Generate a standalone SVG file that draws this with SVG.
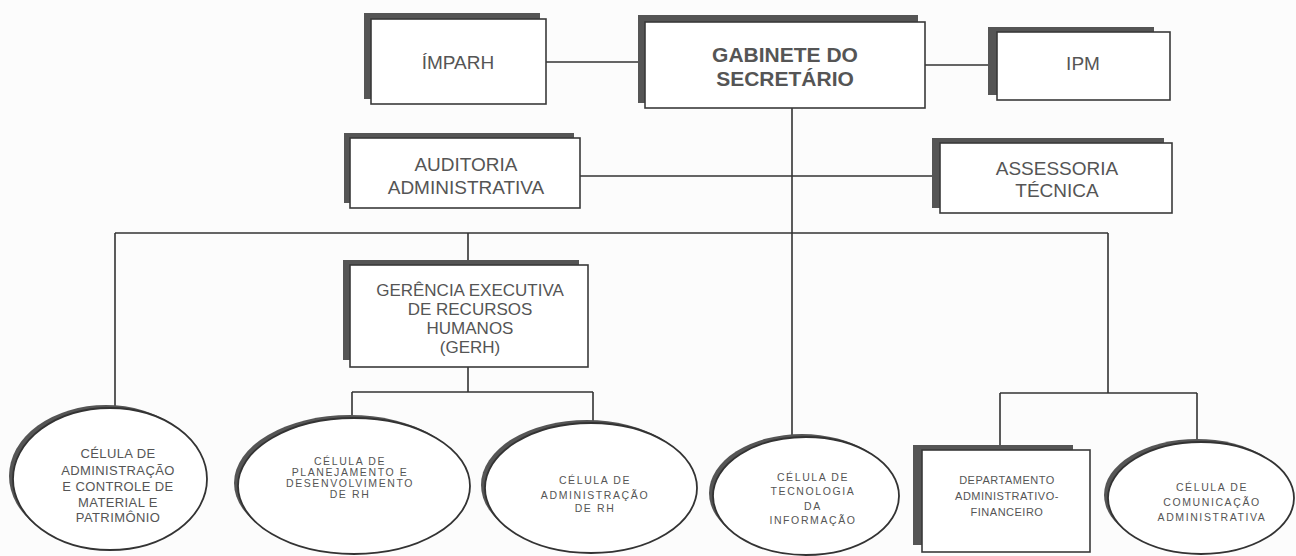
<svg xmlns="http://www.w3.org/2000/svg" width="1296" height="556" viewBox="0 0 1296 556">
<style>
.bg{fill:#fcfcfc}
.sh{fill:#555}
.box{fill:#fff;stroke:#3a3a3a;stroke-width:1.6}
.ell{fill:#fff;stroke:#333;stroke-width:1.8}
.ln{stroke:#333;stroke-width:1.6;fill:none}
text{font-family:"Liberation Sans",Arial,sans-serif;fill:#555;text-anchor:middle}
.t19{font-size:19px}
.t17{font-size:17px}
.tb{font-size:21px;font-weight:bold}
.ts{font-size:10.5px;letter-spacing:1.6px}
.tm{font-size:13px;letter-spacing:0.4px}
.td{font-size:11px;letter-spacing:0.5px}
</style>
<rect class="bg" x="0" y="0" width="1296" height="556"/>
<g id="connectors">
<path class="ln" d="M546 62H638"/>
<path class="ln" d="M925 65H988"/>
<path class="ln" d="M792 108V435"/>
<path class="ln" d="M580 176H933"/>
<path class="ln" d="M115 233H1108"/>
<path class="ln" d="M115 233V408"/>
<path class="ln" d="M468 233V260"/>
<path class="ln" d="M468 367V392M352 392H593M352 392V418M593 392V423"/>
<path class="ln" d="M1108 233V393M1000 393H1197M1000 393V445M1197 393V442"/>
</g>
<g id="imparh">
<rect class="sh" x="364" y="13" width="176" height="86"/>
<rect class="box" x="371" y="19" width="175" height="85"/>
<text class="t19" x="458" y="69">ÍMPARH</text>
</g>
<g id="gabinete">
<rect class="sh" x="638" y="15" width="280" height="88"/>
<rect class="box" x="645" y="22" width="280" height="86"/>
<text class="tb" x="785" y="62">GABINETE DO</text>
<text class="tb" x="785" y="86">SECRETÁRIO</text>
</g>
<g id="ipm">
<rect class="sh" x="988" y="27" width="166" height="68"/>
<rect class="box" x="997" y="32" width="173" height="68"/>
<text class="t19" x="1083" y="70">IPM</text>
</g>
<g id="auditoria">
<rect class="sh" x="344" y="133" width="230" height="70"/>
<rect class="box" x="350" y="138" width="230" height="70"/>
<text class="t19" x="466" y="171">AUDITORIA</text>
<text class="t19" x="466" y="194">ADMINISTRATIVA</text>
</g>
<g id="assessoria">
<rect class="sh" x="932" y="138" width="232" height="70"/>
<rect class="box" x="940" y="143" width="232" height="70"/>
<text class="t19" x="1057" y="175">ASSESSORIA</text>
<text class="t19" x="1057" y="197">TÉCNICA</text>
</g>
<g id="gerh">
<rect class="sh" x="343" y="260" width="236" height="100"/>
<rect class="box" x="350" y="265" width="238" height="102"/>
<text class="t17" x="470" y="296">GERÊNCIA EXECUTIVA</text>
<text class="t17" x="470" y="315">DE RECURSOS</text>
<text class="t17" x="470" y="334">HUMANOS</text>
<text class="t17" x="470" y="353">(GERH)</text>
</g>
<g id="cel-material">
<ellipse class="sh" cx="106" cy="476" rx="97" ry="71"/>
<ellipse class="ell" cx="110" cy="479" rx="97" ry="71"/>
<text class="tm" x="118" y="458">CÉLULA DE</text>
<text class="tm" x="118" y="475">ADMINISTRAÇÃO</text>
<text class="tm" x="118" y="491">E CONTROLE DE</text>
<text class="tm" x="118" y="507">MATERIAL E</text>
<text class="tm" x="118" y="522">PATRIMÔNIO</text>
</g>
<g id="cel-planejamento">
<ellipse class="sh" cx="350" cy="483" rx="116" ry="68"/>
<ellipse class="ell" cx="354" cy="486" rx="116" ry="68"/>
<text class="ts" x="350" y="465">CÉLULA DE</text>
<text class="ts" x="350" y="476">PLANEJAMENTO E</text>
<text class="ts" x="350" y="487">DESENVOLVIMENTO</text>
<text class="ts" x="350" y="498">DE RH</text>
</g>
<g id="cel-admrh">
<ellipse class="sh" cx="587" cy="485" rx="106" ry="65"/>
<ellipse class="ell" cx="591" cy="488" rx="106" ry="65"/>
<text class="ts" x="595" y="484">CÉLULA DE</text>
<text class="ts" x="595" y="499">ADMINISTRAÇÃO</text>
<text class="ts" x="595" y="512">DE RH</text>
</g>
<g id="cel-ti">
<ellipse class="sh" cx="802" cy="493" rx="93" ry="59"/>
<ellipse class="ell" cx="806" cy="496" rx="93" ry="59"/>
<text class="ts" x="813" y="481">CÉLULA DE</text>
<text class="ts" x="813" y="495">TECNOLOGIA</text>
<text class="ts" x="813" y="510">DA</text>
<text class="ts" x="813" y="524">INFORMAÇÃO</text>
</g>
<g id="dept-financeiro">
<rect class="sh" x="913" y="445" width="160" height="100"/>
<rect class="box" x="922" y="450" width="168" height="102"/>
<text class="td" x="1007" y="484">DEPARTAMENTO</text>
<text class="td" x="1007" y="500">ADMINISTRATIVO-</text>
<text class="td" x="1007" y="516">FINANCEIRO</text>
</g>
<g id="cel-comunicacao">
<ellipse class="sh" cx="1197" cy="495" rx="93" ry="56"/>
<ellipse class="ell" cx="1201" cy="498" rx="93" ry="56"/>
<text class="ts" x="1212" y="491">CÉLULA DE</text>
<text class="ts" x="1212" y="506">COMUNICAÇÃO</text>
<text class="ts" x="1212" y="521">ADMINISTRATIVA</text>
</g>
</svg>
